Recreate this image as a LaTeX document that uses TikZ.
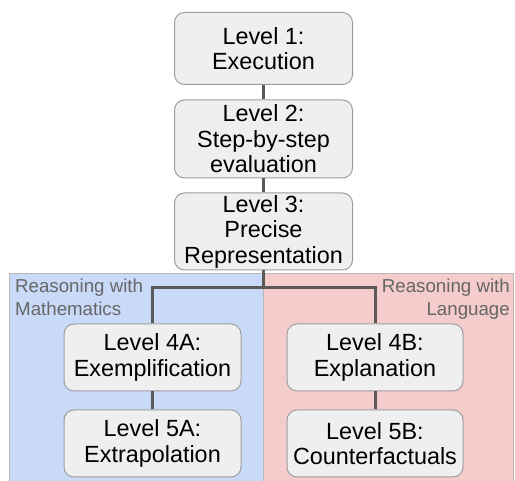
\documentclass[tikz,border=0pt]{standalone}
\usepackage{fontspec}
\setmainfont{Liberation Sans}
\definecolor{boxfill}{HTML}{EFEFEF}
\definecolor{boxline}{HTML}{9E9E9E}
\definecolor{bluebg}{HTML}{C9DAF8}
\definecolor{redbg}{HTML}{F4CCCC}
\definecolor{regline}{HTML}{B7B7B7}
\definecolor{conn}{HTML}{595959}
\definecolor{labgray}{HTML}{666666}
\begin{document}
\begin{tikzpicture}[x=1pt,y=1pt,
  levelbox/.style={draw=boxline, line width=1pt, fill=boxfill, rounded corners=10pt,
    align=center, inner sep=0pt, font=\fontsize{23.4}{25.5}\selectfont, text=black},
  region/.style={draw=regline, line width=0.8pt},
  grouplabel/.style={inner sep=0pt, font=\fontsize{18.7}{23}\selectfont, text=labgray},
  link/.style={draw=conn, line width=3pt}]
\useasboundingbox (0,0) rectangle (515,-481);
\fill[white] (0,0) rectangle (515,-481);
% regions
\path[region, fill=bluebg] (9.5,-273.5) rectangle (263.5,-490);
\path[region, fill=redbg] (263.5,-273.5) rectangle (513.5,-490);
% labels
\node[grouplabel, anchor=north west, align=left] (lm) at (15,-279) {Reasoning with\\Mathematics};
\node[grouplabel, anchor=north east, align=right] (ll) at (510,-279) {Reasoning with\\Language};
% boxes
\node[levelbox, minimum width=178pt, minimum height=72pt] (b1) at (263.5,-48.5) {Level 1:\\Execution};
\node[levelbox, minimum width=178pt, minimum height=78pt] (b2) at (263.5,-139) {Level 2:\\Step-by-step\\evaluation};
\node[levelbox, minimum width=178pt, minimum height=77pt] (b3) at (263.5,-231.5) {Level 3:\\Precise\\Representation};
\node[levelbox, minimum width=177pt, minimum height=67pt] (b4a) at (152.5,-357.5) {Level 4A:\\Exemplification};
\node[levelbox, minimum width=177pt, minimum height=67pt] (b5a) at (152.5,-443.5) {Level 5A:\\Extrapolation};
\node[levelbox, minimum width=176pt, minimum height=67pt] (b4b) at (375,-357.5) {Level 4B:\\Explanation};
\node[levelbox, minimum width=176pt, minimum height=67pt] (b5b) at (375,-443.5) {Level 5B:\\Counterfactuals};
\coordinate (j) at (263.5,-288);
% connectors
\draw[link] (b1.south) -- (b2.north);
\draw[link] (b2.south) -- (b3.north);
\draw[link] (b3.south) -- (j);
\draw[link] (j) -| (b4a.north);
\draw[link] (j) -| (b4b.north);
\draw[link] (b4a.south) -- (b5a.north);
\draw[link] (b4b.south) -- (b5b.north);
\end{tikzpicture}
\end{document}
